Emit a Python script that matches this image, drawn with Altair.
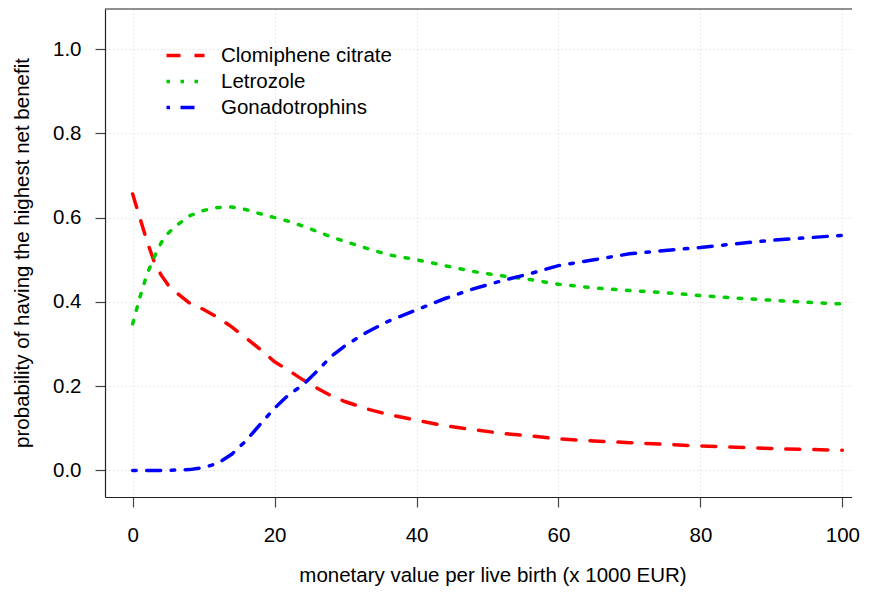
import altair as alt
import pandas as pd

x_vals = [0, 1, 2, 3, 4, 5, 6, 8, 10, 12, 14, 16, 18, 20, 22, 24, 26, 28, 30, 33,
          36, 40, 44, 48, 52, 56, 60, 65, 70, 75, 80, 85, 90, 95, 100]
clomiphene = [0.656, 0.600, 0.545, 0.497, 0.464, 0.440, 0.424, 0.397, 0.382, 0.363,
              0.340, 0.314, 0.287, 0.258, 0.237, 0.215, 0.195, 0.177, 0.163, 0.146,
              0.133, 0.119, 0.106, 0.097, 0.088, 0.082, 0.075, 0.070, 0.066, 0.062,
              0.058, 0.055, 0.052, 0.050, 0.048]
letrozole = [0.348, 0.410, 0.465, 0.505, 0.540, 0.563, 0.579, 0.604, 0.617, 0.624,
             0.625, 0.619, 0.609, 0.600, 0.591, 0.580, 0.567, 0.554, 0.543, 0.527,
             0.512, 0.500, 0.486, 0.472, 0.462, 0.453, 0.442, 0.433, 0.427, 0.422,
             0.415, 0.409, 0.404, 0.399, 0.395]
gonadotrophins = [0.000, 0.000, 0.000, 0.000, 0.000, 0.000, 0.001, 0.002, 0.007, 0.017,
                  0.039, 0.071, 0.110, 0.148, 0.180, 0.203, 0.236, 0.271, 0.297, 0.328,
                  0.354, 0.381, 0.408, 0.431, 0.450, 0.467, 0.486, 0.500, 0.514, 0.522,
                  0.529, 0.538, 0.546, 0.552, 0.558]

series = ["Clomiphene citrate", "Letrozole", "Gonadotrophins"]
colors = ["#ff0000", "#00cd00", "#0000ff"]
dashes = [[14, 14], [3.5, 10.5], [3.5, 10.5, 14, 10.5]]
x_ticks = [0, 20, 40, 60, 80, 100]
y_ticks = [0.0, 0.2, 0.4, 0.6, 0.8, 1.0]
x_domain = [-3.9, 101.5]
y_domain = [-0.063, 1.095]

rows = []
for name, vals in zip(series, [clomiphene, letrozole, gonadotrophins]):
    for xv, yv in zip(x_vals, vals):
        rows.append({"x": xv, "p": yv, "series": name})
df = pd.DataFrame(rows)

FONT = "Liberation Sans"
FS = 20.5
W, H = 748, 488

xscale = alt.Scale(domain=x_domain, nice=False, zero=False)
yscale = alt.Scale(domain=y_domain, nice=False, zero=False)

yaxis = alt.Axis(
    values=y_ticks, format=".1f",
    title="probability of having the highest net benefit",
    grid=True, gridColor="#d3d3d3", gridDash=[1, 3], gridWidth=1,
    domain=True, domainColor="#222222", domainWidth=1.2,
    ticks=True, tickSize=10, tickColor="#444444", tickWidth=1.2,
    labelFont=FONT, labelFontSize=FS, labelColor="black", labelPadding=14,
    titleFont=FONT, titleFontSize=FS, titleFontWeight="normal", titleColor="black",
    titleX=-83, titleY=243.5, titleAngle=270, titleBaseline="middle", titleAlign="center",
)

leg = alt.Legend(
    orient="none", legendX=69, legendY=35, title=None,
    labelFont=FONT, labelFontSize=FS, labelColor="black", labelLimit=0,
    symbolType="M-2,0L2,0", symbolSize=361, symbolStrokeWidth=3.5,
    labelOffset=24, rowPadding=4, padding=0,
)

lines = alt.Chart(df).mark_line(strokeWidth=3.5, strokeCap="round").encode(
    x=alt.X("x:Q", scale=xscale, axis=alt.Axis(
        values=x_ticks, title="monetary value per live birth (x 1000 EUR)",
        grid=True, gridColor="#d3d3d3", gridDash=[1, 3], gridWidth=1,
        domain=True, domainColor="#222222", domainWidth=1.2,
        ticks=True, tickSize=10, tickColor="#444444", tickWidth=1.2,
        labelFont=FONT, labelFontSize=FS, labelColor="black", labelPadding=18,
        titleFont=FONT, titleFontSize=FS, titleFontWeight="normal", titleColor="black",
        titleX=387.5, titleY=84, titleBaseline="alphabetic", titleAlign="center",
    )),
    y=alt.Y("p:Q", scale=yscale, axis=yaxis),
    color=alt.Color("series:N", scale=alt.Scale(domain=series, range=colors), legend=leg),
    strokeDash=alt.StrokeDash("series:N", scale=alt.Scale(domain=series, range=dashes), legend=leg),
    order=alt.Order("x:Q"),
)

frame_df = pd.DataFrame({"edge": ["frame"]})

# top edge of the plot box (frame only)
frame_top = alt.Chart(frame_df).mark_rule(
    color="#222222", strokeWidth=1.2
).encode(x=alt.value(0), x2=alt.value(W), y=alt.value(0))

# the reference box is open on the right (cut by the image edge): mask any right edge
frame_right = alt.Chart(frame_df).mark_rule(
    color="white", strokeWidth=3
).encode(x=alt.value(W + 0.5), y=alt.value(-1), y2=alt.value(H + 1))

chart = alt.layer(lines, frame_top, frame_right).properties(
    width=W, height=H,
    padding={"left": 97, "top": 1, "right": 8, "bottom": 89},
    autosize=alt.AutoSizeParams(type="none"),
    background="white",
).configure_view(strokeWidth=0, stroke="transparent")

chart.save("out.html", embed_options={"renderer": "svg", "actions": False})
